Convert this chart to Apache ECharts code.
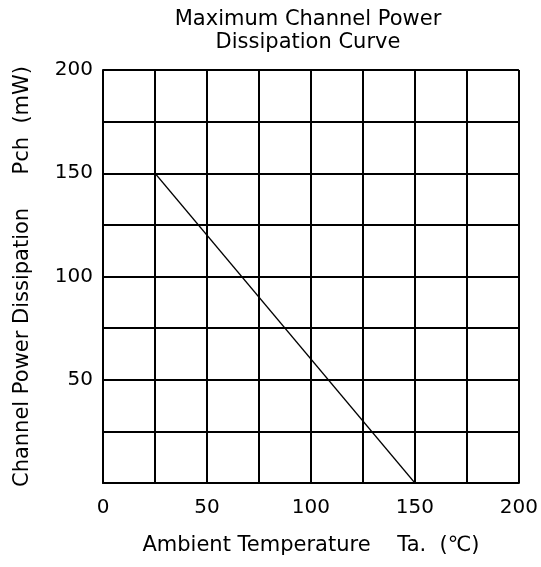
<!DOCTYPE html>
<html>
<head>
<meta charset="utf-8">
<script src="https://cdn.jsdelivr.net/npm/echarts@6/dist/echarts.min.js"></script>
<style>
html,body{margin:0;padding:0;background:#fff;}
#chart{width:541px;height:567px;}
</style>
</head>
<body>
<div id="chart"></div>
<script>
const titleLines = ['Maximum Channel Power', 'Dissipation Curve'];
const xAxisTitle = 'Ambient Temperature    Ta.  (\u2103)';
const yAxisTitle = 'Channel Power Dissipation     Pch  (mW)';
const xTickLabels = [0, 50, 100, 150, 200];
const yTickLabels = [50, 100, 150, 200];
const temperature = [25, 150];
const power = [150, 0];

const FONT = 'DejaVu Sans';
const chart = echarts.init(document.getElementById('chart'), null, {renderer: 'canvas'});
chart.setOption({
  backgroundColor: '#fff',
  animation: false,
  title: {
    text: titleLines.join('\n'),
    left: 303,
    top: 3,
    textAlign: 'center',
    textStyle: {fontFamily: FONT, fontSize: 21, fontWeight: 'normal', color: '#000', lineHeight: 23}
  },
  grid: {left: 103, right: 20, top: 70, bottom: 84, containLabel: false},
  xAxis: {
    type: 'value', min: 0, max: 200, interval: 25,
    name: xAxisTitle, nameLocation: 'middle', nameGap: 52,
    nameTextStyle: {fontFamily: FONT, fontSize: 21, color: '#000'},
    axisLine: {show: true, lineStyle: {color: '#000', width: 2}},
    axisTick: {show: false},
    splitLine: {show: true, showMinLine: true, showMaxLine: true, lineStyle: {color: '#000', width: 2}},
    axisLabel: {
      fontFamily: FONT, fontSize: 20, color: '#000', margin: 15,
      formatter: v => xTickLabels.includes(v) ? String(v) : ''
    }
  },
  yAxis: {
    type: 'value', min: 0, max: 200, interval: 25,
    name: yAxisTitle, nameLocation: 'middle', nameGap: 70, nameRotate: 90,
    nameTextStyle: {fontFamily: FONT, fontSize: 21, color: '#000'},
    axisLine: {show: true, lineStyle: {color: '#000', width: 2}},
    axisTick: {show: false},
    splitLine: {show: true, showMinLine: true, showMaxLine: true, lineStyle: {color: '#000', width: 2}},
    axisLabel: {
      fontFamily: FONT, fontSize: 20, color: '#000', margin: 10,
      formatter: v => yTickLabels.includes(v) ? String(v) : ''
    }
  },
  series: [{
    type: 'line',
    data: temperature.map((t, i) => [t, power[i]]),
    showSymbol: false,
    lineStyle: {color: '#000', width: 1.2},
    z: 5
  }]
});
</script>
</body>
</html>
